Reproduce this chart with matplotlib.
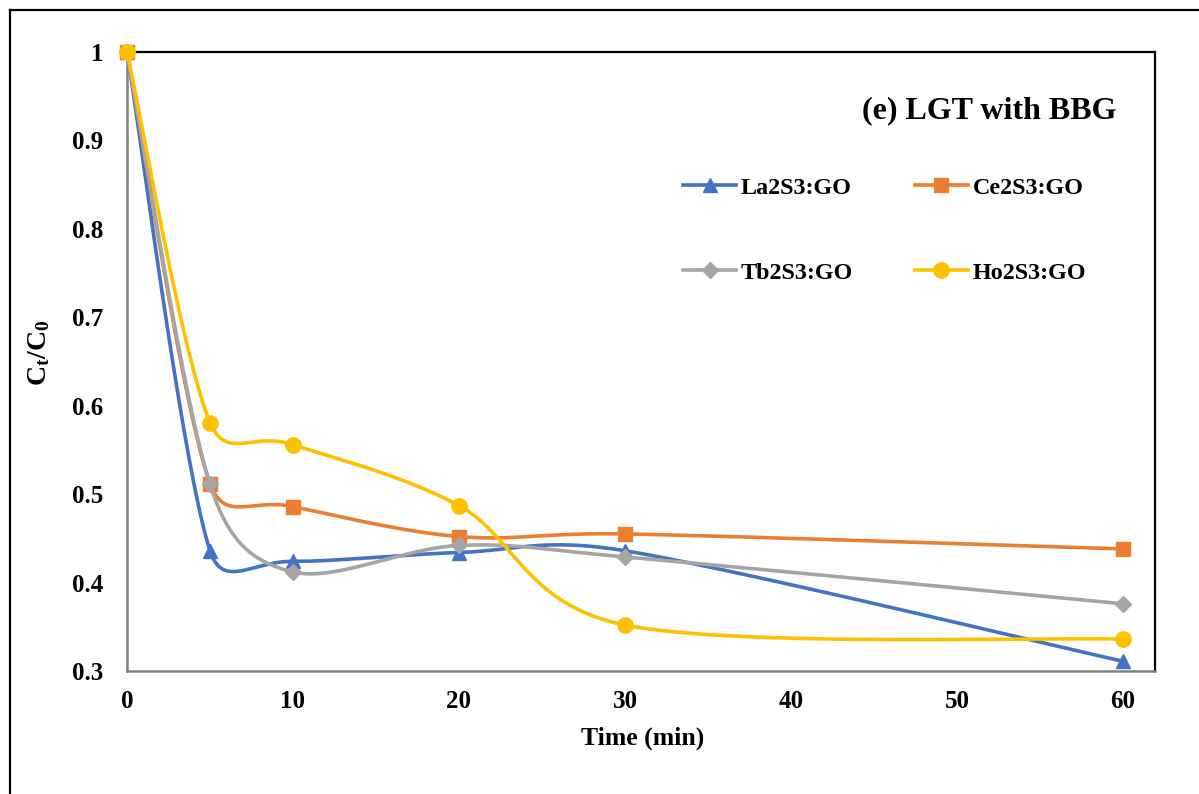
import numpy as np
import matplotlib
matplotlib.use("Agg")
import matplotlib.pyplot as plt
from matplotlib.lines import Line2D

plt.rcParams['font.family'] = ['Liberation Serif', 'DejaVu Serif']
plt.rcParams['font.weight'] = 'bold'
plt.rcParams['mathtext.fontset'] = 'custom'
plt.rcParams['mathtext.rm'] = 'Liberation Serif:bold'
plt.rcParams['mathtext.it'] = 'Liberation Serif:bold'
plt.rcParams['mathtext.bf'] = 'Liberation Serif:bold'

# ---- data ----
time_min = [0, 5, 10, 20, 30, 60]
la2s3_go = [1.0, 0.436, 0.424, 0.434, 0.436, 0.311]
ce2s3_go = [1.0, 0.512, 0.486, 0.452, 0.455, 0.438]
tb2s3_go = [1.0, 0.511, 0.412, 0.442, 0.429, 0.376]
ho2s3_go = [1.0, 0.581, 0.556, 0.487, 0.352, 0.336]
series_names = ['La2S3:GO', 'Ce2S3:GO', 'Tb2S3:GO', 'Ho2S3:GO']
x_ticks = [0, 10, 20, 30, 40, 50, 60]
y_ticks = [0.3, 0.4, 0.5, 0.6, 0.7, 0.8, 0.9, 1.0]
y_tick_labels = ['0.3', '0.4', '0.5', '0.6', '0.7', '0.8', '0.9', '1']

colors = ['#4472C4', '#ED7D31', '#A5A5A5', '#FFC000']
markers = ['^', 's', 'D', 'o']
msizes = [10.5, 10, 8, 11]

W, H = 1199, 794
fig = plt.figure(figsize=(W / 100, H / 100), dpi=100)
ax = fig.add_axes([127 / W, 1 - 671 / H, (1155 - 127) / W, (671 - 52) / H])
ax.set_xlim(0, 61.93)
ax.set_ylim(0.3, 1.0)


def _clamp(v, maxlen):
    n = np.hypot(v[0], v[1])
    if n > maxlen and n > 0:
        return v * (maxlen / n)
    return v


def excel_smooth(xd, yd, n=40):
    pts = ax.transData.transform(np.column_stack([xd, yd]))
    out = [pts[0]]
    t = np.linspace(0, 1, n)[1:, None]
    for i in range(len(pts) - 1):
        p0 = pts[i - 1] if i > 0 else pts[i]
        p1 = pts[i]
        p2 = pts[i + 1]
        p3 = pts[i + 2] if i + 2 < len(pts) else pts[i + 1]
        d12 = np.hypot(*(p2 - p1))
        c1 = p1 + _clamp((p2 - p0) / 6.0, d12 / 2.0)
        c2 = p2 - _clamp((p3 - p1) / 6.0, d12 / 2.0)
        seg = (1 - t) ** 3 * p1 + 3 * (1 - t) ** 2 * t * c1 + 3 * (1 - t) * t ** 2 * c2 + t ** 3 * p2
        out.extend(seg)
    return ax.transData.inverted().transform(np.array(out))


all_series = [la2s3_go, ce2s3_go, tb2s3_go, ho2s3_go]
handles = []
for k, (ys, c, m, ms, name) in enumerate(zip(all_series, colors, markers, msizes, series_names)):
    curve = excel_smooth(time_min, ys)
    ax.plot(curve[:, 0], curve[:, 1], color=c, lw=2.6, zorder=3 + k, clip_on=False,
            solid_capstyle='round')
    ax.plot(time_min, ys, linestyle='none', marker=m, ms=ms, color=c, mec=c,
            zorder=3 + k, clip_on=False)
    handles.append(Line2D([], [], color=c, lw=2.6, marker=m, ms=ms, mec=c, label=name))

ax.set_xticks(x_ticks)
ax.set_xticklabels([str(v) for v in x_ticks])
ax.set_yticks(y_ticks)
ax.set_yticklabels(y_tick_labels)
ax.tick_params(axis='both', length=0, labelsize=18)
ax.tick_params(axis='y', pad=17)
ax.tick_params(axis='x', pad=14)

for s in ['left', 'bottom']:
    ax.spines[s].set_color('#7f7f7f')
    ax.spines[s].set_linewidth(1.8)
for s in ['top', 'right']:
    ax.spines[s].set_color('black')
    ax.spines[s].set_linewidth(1.6)

ax.set_xlabel('Time (min)', fontsize=18.5, fontweight='bold', va='center')
ax.xaxis.set_label_coords((643 - 127) / 1028, (671 - 738) / 619)
ax.set_ylabel(r'$\mathbf{C_t/C_0}$', fontsize=20, va='center')
ax.yaxis.set_label_coords((39 - 127) / 1028, (671 - 353) / 619)

ax.text((1117 - 127) / 1028, (671 - 111) / 619, '(e) LGT with BBG', transform=ax.transAxes,
        ha='right', va='center', fontsize=23, fontweight='bold')

# legend filled row-wise like the reference: La, Ce / Tb, Ho
leg_order = [0, 2, 1, 3]
leg = ax.legend(handles=[handles[i] for i in leg_order], ncol=2, loc='upper left',
                bbox_to_anchor=(683 / W, 1 - 177 / H),
                bbox_transform=fig.transFigure, frameon=False, handlelength=2.2,
                handletextpad=0.2, columnspacing=2.55, labelspacing=2.6, borderpad=0,
                borderaxespad=0, prop={'weight': 'bold', 'size': 17.4})

# outer frame (cut off at right and bottom)
fig.add_artist(Line2D([9.5 / W, 9.5 / W], [0, 1 - 9.5 / H], transform=fig.transFigure,
                      color='black', lw=1.6))
fig.add_artist(Line2D([9.5 / W, 1], [1 - 9.5 / H, 1 - 9.5 / H], transform=fig.transFigure,
                      color='black', lw=1.6))

fig.savefig('out.png', dpi=100)
